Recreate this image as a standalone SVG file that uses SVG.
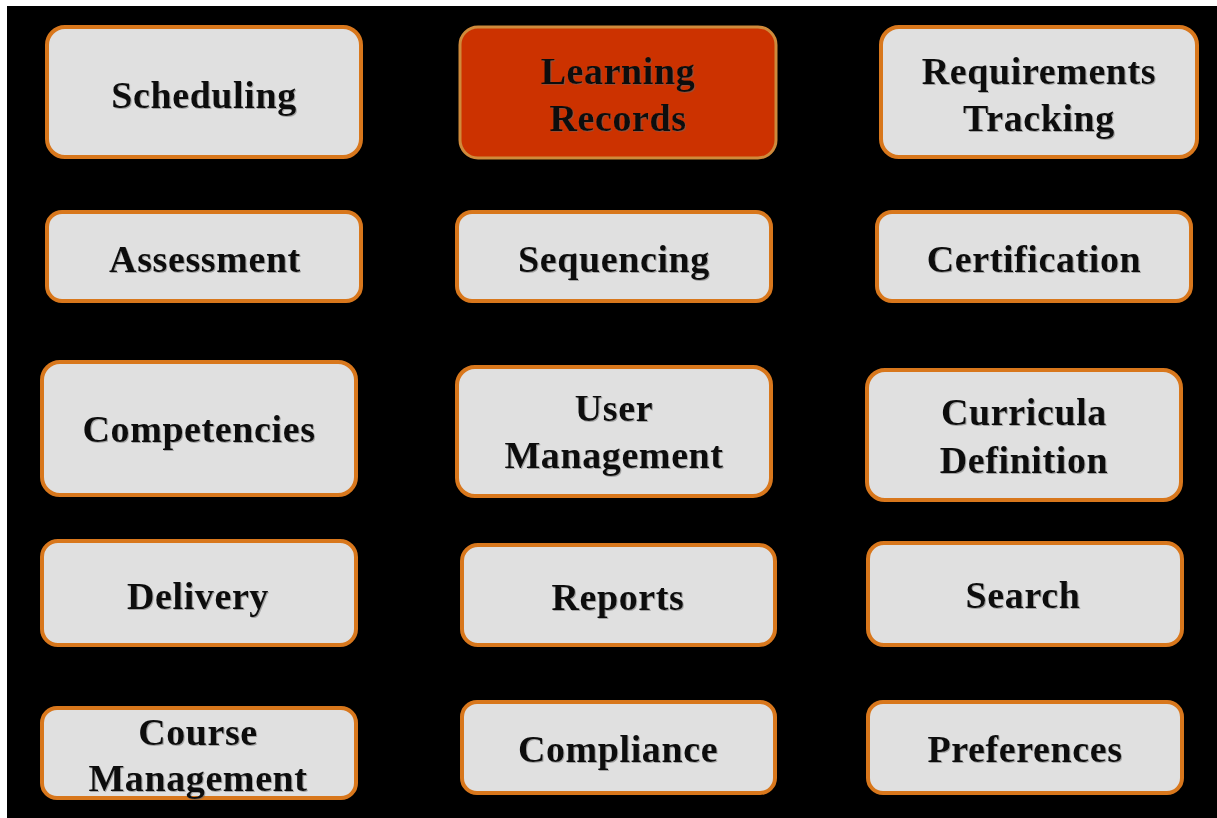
<svg xmlns="http://www.w3.org/2000/svg" width="1217" height="818" viewBox="0 0 1217 818">
  <defs>
    <filter id="soft" x="-5%" y="-5%" width="110%" height="110%">
      <feGaussianBlur stdDeviation="0.7"/>
    </filter>
    <filter id="shade" x="-5%" y="-20%" width="110%" height="140%">
      <feDropShadow dx="1" dy="1" stdDeviation="0.7" flood-color="#666" flood-opacity="0.5"/>
    </filter>
  </defs>
  <style>
    .box { fill: #e0e0e0; stroke: #d8771d; stroke-width: 4; filter: url(#soft); }
    .hot { fill: #cc3300; stroke: #cf8a3a; stroke-width: 3; filter: url(#soft); }
    .lbl { font-family: "Liberation Serif", "Times New Roman", serif; font-weight: bold; font-size: 38px; letter-spacing: 0.6px; fill: #111; text-anchor: middle; filter: url(#shade); }
  </style>

  <!-- page -->
  <rect x="0" y="0" width="1217" height="818" fill="#ffffff"/>
  <rect x="7" y="6" width="1210" height="812" fill="#000000"/>

  <g id="connectors"></g>

  <!-- row 1 -->
  <g id="scheduling">
    <rect class="box" x="47" y="27" width="314" height="130" rx="18"/>
    <text class="lbl" x="204" y="108">Scheduling</text>
  </g>
  <g id="learning-records">
    <rect class="hot" x="460" y="27" width="316" height="131" rx="18"/>
    <text class="lbl" x="618" y="84">Learning</text>
    <text class="lbl" x="618" y="131">Records</text>
  </g>
  <g id="requirements-tracking">
    <rect class="box" x="881" y="27" width="316" height="130" rx="18"/>
    <text class="lbl" x="1039" y="84">Requirements</text>
    <text class="lbl" x="1039" y="131">Tracking</text>
  </g>

  <!-- row 2 -->
  <g id="assessment">
    <rect class="box" x="47" y="212" width="314" height="89" rx="15"/>
    <text class="lbl" x="205" y="272">Assessment</text>
  </g>
  <g id="sequencing">
    <rect class="box" x="457" y="212" width="314" height="89" rx="15"/>
    <text class="lbl" x="614" y="272">Sequencing</text>
  </g>
  <g id="certification">
    <rect class="box" x="877" y="212" width="314" height="89" rx="15"/>
    <text class="lbl" x="1034" y="272">Certification</text>
  </g>

  <!-- row 3 -->
  <g id="competencies">
    <rect class="box" x="42" y="362" width="314" height="133" rx="18"/>
    <text class="lbl" x="199" y="442">Competencies</text>
  </g>
  <g id="user-management">
    <rect class="box" x="457" y="367" width="314" height="129" rx="18"/>
    <text class="lbl" x="614" y="421">User</text>
    <text class="lbl" x="614" y="468">Management</text>
  </g>
  <g id="curricula-definition">
    <rect class="box" x="867" y="370" width="314" height="130" rx="18"/>
    <text class="lbl" x="1024" y="425">Curricula</text>
    <text class="lbl" x="1024" y="473">Definition</text>
  </g>

  <!-- row 4 -->
  <g id="delivery">
    <rect class="box" x="42" y="541" width="314" height="104" rx="16"/>
    <text class="lbl" x="198" y="609">Delivery</text>
  </g>
  <g id="reports">
    <rect class="box" x="462" y="545" width="313" height="100" rx="16"/>
    <text class="lbl" x="618" y="610">Reports</text>
  </g>
  <g id="search">
    <rect class="box" x="868" y="543" width="314" height="102" rx="16"/>
    <text class="lbl" x="1023" y="608">Search</text>
  </g>

  <!-- row 5 -->
  <g id="course-management">
    <rect class="box" x="42" y="708" width="314" height="90" rx="15"/>
    <text class="lbl" x="198" y="745">Course</text>
    <text class="lbl" x="198" y="791">Management</text>
  </g>
  <g id="compliance">
    <rect class="box" x="462" y="702" width="313" height="91" rx="15"/>
    <text class="lbl" x="618" y="762">Compliance</text>
  </g>
  <g id="preferences">
    <rect class="box" x="868" y="702" width="314" height="91" rx="15"/>
    <text class="lbl" x="1025" y="762">Preferences</text>
  </g>
</svg>
